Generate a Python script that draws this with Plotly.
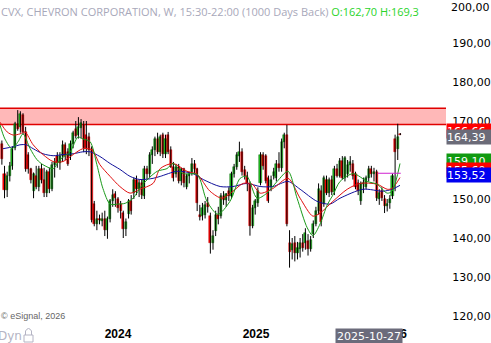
import plotly.graph_objects as go
import pandas as pd

# ---------------- data (weekly OHLC) ----------------
start_week = "2023-02-20"
opens = [163.0,164.2,156.5,152.2,156.0,158.5,163.0,169.2,168.5,171.5,167.2,161.4,157.6,152.0,156.0,153.2,157.8,155.0,151.5,156.8,
         152.5,158.8,161.0,159.2,160.9,163.9,162.1,160.9,164.2,168.0,166.4,168.2,169.0,166.5,166.0,162.9,148.7,143.6,145.0,144.4,
         145.0,142.0,144.9,149.4,151.2,150.0,148.7,146.4,142.3,146.1,149.4,151.5,155.0,152.5,154.0,150.7,157.8,156.5,161.4,162.5,
         165.5,162.0,166.4,161.5,166.4,162.5,158.3,156.5,158.3,154.5,157.6,153.2,155.8,157.0,159.1,157.8,146.0,145.6,146.0,149.0,
         145.6,138.8,141.8,146.0,145.6,150.7,149.8,152.0,150.7,156.5,158.3,160.9,162.1,157.5,155.8,153.8,143.1,147.7,148.9,154.0,
         161.4,160.9,155.3,153.2,155.8,155.3,159.1,158.0,164.7,166.4,138.8,137.0,138.8,136.2,137.3,138.8,138.8,139.3,137.3,141.1,
         143.6,146.9,152.0,148.7,155.0,151.5,155.0,151.8,157.8,156.0,159.8,155.3,156.3,158.8,159.1,156.5,154.0,149.4,153.8,153.2,
         155.3,157.6,156.5,157.0,150.0,152.0,150.0,148.2,149.0,150.7,165.4,162.7,166.66]
highs = [165.5,165.0,158.5,157.0,159.5,163.5,169.8,172.8,172.5,172.0,168.5,162.0,158.0,156.8,158.5,158.5,159.0,158.0,157.5,158.0,
         159.5,160.5,162.0,162.0,165.0,164.5,163.0,165.0,167.5,170.0,171.0,170.5,170.0,170.0,167.0,163.5,149.5,147.0,146.0,146.5,
         147.0,145.5,150.0,152.5,152.0,150.5,149.5,147.0,145.0,150.0,151.0,155.5,156.0,155.0,155.0,158.5,158.5,162.0,163.5,166.0,
         167.0,166.5,167.0,166.5,167.2,163.5,159.5,159.0,159.0,158.0,158.0,156.5,157.0,160.5,160.0,158.0,148.5,149.0,149.5,150.5,
         146.5,142.0,147.0,148.0,151.5,152.0,151.5,153.0,157.0,159.0,162.0,164.7,163.0,158.5,157.0,154.5,148.5,150.0,153.0,162.0,
         162.0,161.5,156.0,156.0,158.0,160.0,162.0,165.5,167.0,169.0,142.0,140.0,140.5,139.0,140.0,141.0,142.5,141.0,140.5,144.5,
         148.0,154.0,153.5,156.0,156.0,155.5,156.0,158.5,159.0,160.5,161.0,161.0,160.0,161.0,160.0,157.0,155.0,154.5,155.5,156.0,
         158.5,158.5,158.0,157.5,152.5,153.0,151.0,150.0,151.0,156.5,166.5,169.3,166.9]
lows = [159.0,158.8,150.2,150.5,154.5,157.5,162.5,167.5,167.0,166.5,157.0,156.5,154.0,150.2,152.5,152.0,154.0,150.5,150.5,151.5,
        152.0,155.5,158.0,157.5,159.5,160.0,158.5,160.0,163.0,165.5,165.5,165.5,162.0,161.5,161.0,144.0,143.0,142.0,143.5,143.0,
        140.5,139.8,144.0,148.0,148.0,146.5,145.0,140.0,140.5,145.0,146.0,150.0,151.0,150.5,150.0,150.0,155.0,155.5,159.0,161.0,
        161.5,161.0,160.5,160.5,161.5,158.0,154.5,155.5,154.0,153.5,153.0,152.5,154.0,156.0,156.5,146.9,144.5,144.5,145.0,146.5,
        136.0,137.0,140.5,143.5,145.0,148.5,148.0,149.5,150.0,155.5,157.5,159.5,156.0,155.0,152.0,140.6,142.5,146.0,148.0,153.5,
        157.5,154.0,149.0,152.0,155.0,154.5,157.0,157.0,163.0,143.0,132.4,134.5,134.0,134.5,135.0,136.5,137.0,135.5,136.5,140.0,
        143.0,146.0,143.0,148.0,151.0,150.5,151.0,151.0,155.5,155.5,155.0,154.5,155.5,157.0,155.0,152.5,151.0,148.5,151.5,152.5,
        154.5,155.5,154.5,149.5,148.5,149.5,146.4,146.8,147.5,150.0,152.0,160.0,166.4]
closes = [164.6,160.2,152.2,156.0,158.5,162.9,169.2,168.0,171.8,167.2,157.8,157.6,155.0,156.3,153.2,157.8,155.0,151.5,156.8,152.5,
          158.8,159.5,159.2,160.9,163.9,161.0,159.1,164.2,166.8,166.2,168.5,169.5,163.2,163.0,162.5,144.6,143.6,145.0,144.5,144.9,
          142.0,144.9,149.4,151.0,150.2,147.6,146.8,142.3,144.0,149.4,147.0,155.0,152.5,154.0,151.0,157.8,156.5,161.4,162.5,165.5,
          162.0,165.8,161.5,165.5,162.1,158.3,155.5,158.3,154.5,157.6,154.0,155.8,156.5,159.1,157.8,148.9,145.5,147.7,148.4,148.0,
          138.8,140.5,146.0,145.0,150.7,149.8,151.2,150.7,156.5,158.3,161.4,162.1,157.0,155.8,153.8,143.1,147.7,149.5,152.0,161.4,
          158.5,154.6,149.6,155.0,157.0,159.1,158.0,164.7,166.4,143.6,136.5,138.5,136.2,137.5,138.8,137.5,141.3,137.3,139.5,143.6,
          146.9,152.5,144.0,155.3,151.5,155.0,151.8,157.8,156.0,159.8,155.5,160.4,158.8,159.5,155.8,153.2,152.0,153.8,154.0,155.3,
          157.6,156.5,157.0,150.2,151.5,150.2,148.2,148.8,150.0,155.8,162.1,165.9,166.4]

# moving averages
ma_fast_dates = ["2023-02-22","2023-03-07","2023-03-26","2023-04-11","2023-04-24","2023-05-13","2023-05-31","2023-06-16",
                 "2023-07-13","2023-07-31","2023-08-27","2023-09-17","2023-09-30","2023-10-19","2023-11-06","2023-11-22",
                 "2023-12-11","2024-01-01","2024-01-20","2024-02-10","2024-03-07","2024-04-14","2024-05-10","2024-05-26",
                 "2024-06-22","2024-07-29","2024-08-24","2024-09-22","2024-10-24","2024-11-20","2024-12-08","2025-01-04",
                 "2025-01-30","2025-02-26","2025-03-27","2025-04-20","2025-05-17","2025-06-01","2025-06-20","2025-07-09",
                 "2025-07-24","2025-08-12","2025-09-16","2025-10-23","2025-11-18","2025-12-15","2025-12-28","2026-01-18"]
ma_fast_vals = [169.0,165.4,162.9,164.7,166.7,162.9,160.1,158.8,157.8,160.1,162.1,165.9,165.4,164.7,158.8,152.7,
                148.7,148.7,148.9,150.2,153.8,157.1,157.8,159.1,156.5,156.3,149.4,146.1,149.4,155.3,155.8,150.2,
                151.5,154.5,157.1,150.2,142.6,140.6,143.6,148.5,151.0,154.5,156.5,154.5,153.8,151.5,152.0,159.1]
ma_mid_dates = ["2023-02-22","2023-03-13","2023-03-29","2023-04-16","2023-04-29","2023-05-21","2023-06-16","2023-07-13",
                "2023-08-08","2023-09-04","2023-09-30","2023-10-24","2023-11-14","2023-12-11","2024-01-06","2024-02-02",
                "2024-02-28","2024-04-03","2024-04-22","2024-05-26","2024-07-02","2024-07-29","2024-09-01","2024-10-03",
                "2024-11-01","2024-11-28","2024-12-22","2025-01-12","2025-02-15","2025-03-27","2025-04-28","2025-06-01",
                "2025-06-20","2025-07-24","2025-08-31","2025-10-04","2025-11-18","2025-12-15","2025-12-28","2026-01-18"]
ma_mid_vals = [169.7,167.2,166.4,166.7,167.2,163.9,161.4,159.6,159.6,161.4,162.9,162.6,158.8,155.8,153.2,151.5,
               152.5,154.0,157.8,159.1,157.1,156.3,152.0,150.2,152.0,154.0,153.8,151.5,152.7,155.3,150.2,145.6,
               146.4,149.4,152.5,154.0,153.8,152.5,152.7,155.5]
ma_slow_dates = ["2023-03-02","2023-03-29","2023-04-16","2023-05-03","2023-05-21","2023-06-16","2023-07-13","2023-08-08",
                 "2023-09-04","2023-09-30","2023-10-19","2023-11-14","2023-12-11","2024-01-06","2024-02-02","2024-02-28",
                 "2024-04-03","2024-04-22","2024-06-06","2024-07-18","2024-08-14","2024-09-28","2024-11-01","2024-12-08",
                 "2025-01-12","2025-02-15","2025-03-27","2025-04-28","2025-06-12","2025-07-16","2025-08-12","2025-10-12",
                 "2025-12-04","2025-12-28","2026-01-18"]
ma_slow_vals = [162.9,163.4,163.9,163.9,162.9,161.6,161.1,161.4,161.6,162.1,162.1,160.9,159.1,157.6,155.8,155.0,
                155.3,155.8,157.1,156.5,155.0,153.2,153.2,154.0,153.2,153.2,154.5,152.5,149.4,148.7,150.2,152.5,
                152.0,152.5,153.5]
level_dates = ["2025-11-20", "2026-01-20"]
level_vals = [156.6, 156.6]

zone_low, zone_high = 169.1, 173.3
last_labels = [("166,66", 166.66, "#ff0000", 3.5),
               ("164,39", 164.39, "#6b6b78", 6.0),
               ("159,10", 159.10, "#109a10", 3.0),
               ("155,60", 155.60, "#ff0000", 6.7),
               ("153,52", 153.52, "#0000f0", 10.3)]
year_ticks = ["2024-01-01", "2025-01-01", "2026-01-01"]
year_text = ["2024", "2025", "2026"]
y_ticks = [120, 130, 140, 150, 160, 170, 180, 190]
top_tick_text = "200,00"

# ---------------- figure ----------------
dates = pd.date_range(start_week, periods=len(closes), freq="7D")

wick_x, wick_y = [], []
for d, lo, hi in zip(dates, lows, highs):
    wick_x += [d, d, None]
    wick_y += [lo, hi, None]

up = [c >= o for o, c in zip(opens, closes)]
body_col = ["#22c022" if u else "#ff0000" for u in up]
edge_col = ["#0a6a0a" if u else "#d00000" for u in up]

fig = go.Figure()
fig.add_trace(go.Scatter(x=wick_x, y=wick_y, mode="lines",
                         line=dict(color="#000000", width=1), hoverinfo="skip"))
fig.add_trace(go.Bar(x=dates, base=opens, y=[c - o for o, c in zip(opens, closes)],
                     width=5.5 * 86400000,
                     marker=dict(color=body_col, line=dict(color=edge_col, width=0.5))))
fig.add_trace(go.Scatter(x=ma_slow_dates, y=ma_slow_vals, mode="lines",
                         line=dict(color="#10109a", width=1, shape="spline", smoothing=0.8)))
fig.add_trace(go.Scatter(x=ma_mid_dates, y=ma_mid_vals, mode="lines",
                         line=dict(color="#e01010", width=1, shape="spline", smoothing=0.8)))
fig.add_trace(go.Scatter(x=ma_fast_dates, y=ma_fast_vals, mode="lines",
                         line=dict(color="#1a9a1a", width=1, shape="spline", smoothing=0.8)))
fig.add_trace(go.Scatter(x=level_dates, y=level_vals, mode="lines",
                         line=dict(color="#d020d0", width=1)))

# resistance zone
fig.add_shape(type="rect", xref="paper", x0=0, x1=1, yref="y", y0=zone_low, y1=zone_high,
              fillcolor="#ffb8b8", line=dict(width=0), layer="below")
for yv in (zone_low, zone_high):
    fig.add_shape(type="line", xref="paper", x0=0, x1=1, yref="y", y0=yv, y1=yv,
                  line=dict(color="#e00000", width=1.5), layer="below")

annots = []
for txt, val, col, ysh in last_labels:
    annots.append(dict(xref="paper", x=1, xanchor="left", yref="y", y=val, yshift=ysh,
                       text=txt, showarrow=False, bgcolor=col, width=46, height=14,
                       align="left", borderpad=0,
                       font=dict(family="DejaVu Sans", size=11, color="white")))
annots.append(dict(xref="paper", x=1, xanchor="left", xshift=3, yref="paper", y=1, yanchor="top",
                   yshift=1, showarrow=False, text=top_tick_text,
                   font=dict(family="DejaVu Sans", size=11, color="black")))
annots.append(dict(xref="paper", x=0, xanchor="left", xshift=-1, yref="paper", y=1, yanchor="top", yshift=-2,
                   showarrow=False, align="left",
                   text="<span style='color:#a8a8ba'>CVX, CHEVRON CORPORATION, W, 15:30-22:00 (1000 Days Back)</span> "
                        "<span style='color:#2ad42a'>O:162,70 H:169,3</span>",
                   font=dict(family="Open Sans", size=11)))
annots.append(dict(xref="paper", x=0, xanchor="left", xshift=-1, yref="paper", y=(325 - 316) / 325,
                   yanchor="middle", showarrow=False, text="© eSignal, 2026",
                   font=dict(family="Liberation Sans", size=9, color="#666666")))
annots.append(dict(xref="paper", x=0, xanchor="left", xshift=-4, yref="paper", y=-(336 - 325) / 325,
                   yanchor="middle", showarrow=False, text="Dyn",
                   font=dict(family="DejaVu Sans", size=12, color="#b4b4c4")))
annots.append(dict(xref="x", x="2025-10-27", xanchor="center", yref="paper", y=-(336 - 325) / 325,
                   yanchor="middle", showarrow=False, text="2025-10-27", bgcolor="#6b6b7b",
                   borderpad=1, font=dict(family="DejaVu Sans", size=11, color="white")))

# lock icon
lock_x0, lock_x1 = 24 / 446, 33 / 446
fig.add_shape(type="rect", xref="paper", yref="paper", x0=lock_x0, x1=lock_x1,
              y0=-(342 - 325) / 325, y1=-(335 - 325) / 325,
              line=dict(color="#b4b4c4", width=1), fillcolor="white")
fig.add_shape(type="path", xref="paper", yref="paper",
              path=f"M {25.5/446},{-(335-325)/325} L {25.5/446},{-(331-325)/325} "
                   f"Q {28.5/446},{-(326-325)/325} {31.5/446},{-(331-325)/325} L {31.5/446},{-(335-325)/325}",
              line=dict(color="#b4b4c4", width=1))

fig.update_layout(
    width=491, height=343,
    margin=dict(l=0, r=45, t=0, b=18),
    paper_bgcolor="white", plot_bgcolor="white",
    showlegend=False, bargap=0, separators=",.",
    annotations=annots,
    xaxis=dict(type="date", range=["2023-02-22", "2026-05-20"], tickvals=year_ticks,
               ticktext=[f"<b>{t}</b>" for t in year_text], showgrid=False, zeroline=False,
               showline=False, ticks="", tickfont=dict(family="Liberation Sans", size=12, color="black")),
    yaxis=dict(side="right", range=[117.69, 201.03], tickvals=y_ticks, tickformat=".2f",
               showgrid=False, zeroline=False, showline=False, ticks="outside", ticklen=3,
               tickcolor="rgba(0,0,0,0)",
               tickfont=dict(family="DejaVu Sans", size=11, color="black")),
)
fig.write_html("out.html")
